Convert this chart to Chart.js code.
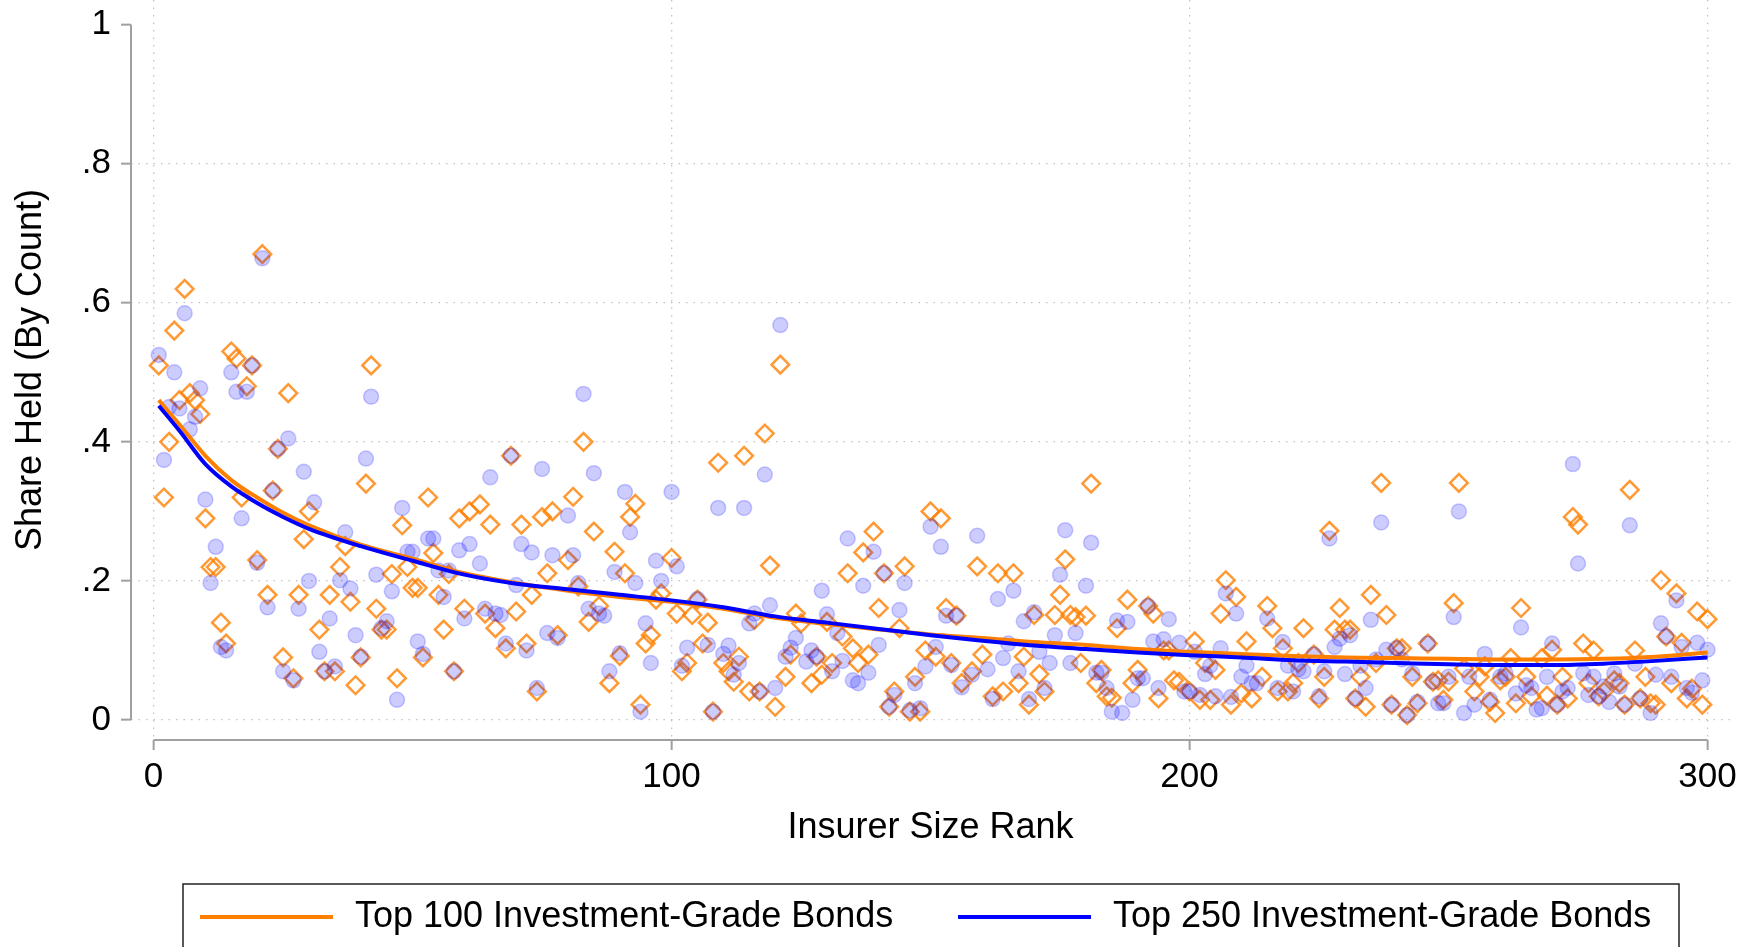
<!DOCTYPE html>
<html>
<head>
<meta charset="utf-8">
<title>Share Held by Insurer Size Rank</title>
<script src="https://cdn.jsdelivr.net/npm/chart.js"></script>
<style>
    html, body { margin: 0; padding: 0; background: #ffffff; }
    #wrap { width: 1758px; height: 947px; position: relative; }
</style>
</head>
<body>
<div id="wrap"><canvas id="shareChart"></canvas></div>
<script>
// --- values (share held, by insurer size rank 1..300) ---
// null = no marker visible at that rank
const top100Share = [
    .51, .32, .40, .56, .46, .62, .47, .46, .44, .29,
    .22, .22, .14, .11, .53, .52, .32, .48, .51, .23,
    .67, .18, .33, .39, .09, .47, .06, .18, .26, .30,
    null, .13, .07, .18, .07, .22, .25, .17, .05, .09,
    .34, .51, .16, .13, .13, .21, .06, .28, .22, .19,
    .19, .09, .32, .24, .18, .13, .21, .07, .29, .16,
    .30, null, .31, .153, .281, .132, null, .103, .38, .156,
    .281, .11, .18, .041, .292, .211, .30, .122, null, .23,
    .321, .192, .40, .141, .271, .164, null, .053, .242, .092,
    .211, .292, .311, .022, .11, .122, .173, .182, null, .233,
    .153, .07, .082, .151, .173, .11, .14, .012, .37, .082,
    .07, .055, .091, .38, .041, .144, .041, .412, .222, .019,
    .511, .062, .094, .153, .139, null, .053, .091, .065, .141,
    .082, null, .12, .211, .103, .082, .241, .094, .271, .161,
    .211, .019, .041, .132, .221, .012, .062, .012, .10, .30,
    .091, .29, .161, .082, .15, .053, null, .07, .221, .094,
    null, .034, .211, .041, null, .211, .053, .091, .022, .151,
    .066, .041, null, .151, .18, .231, .151, .148, .082, .15,
    .34, .053, .072, .034, .032, .132, null, .173, .053, .072,
    null, .164, .153, .031, .10, .10, .057, .055, null, .041,
    .113, .029, .082, .029, .072, .153, .201, .022, .177, .038,
    .113, .031, null, .062, .164, .132, .041, .103, .041, .053,
    .082, .132, null, .094, .031, .062, .272, .13, .161, .13,
    .13, .031, .062, .019, .18, .082, .341, .151, .022, .103,
    .103, .007, .062, .024, null, .11, .055, .057, .029, .055,
    .168, .341, .074, null, .041, .062, .077, .026, .01, .057,
    .062, .089, .024, .161, .062, .034, null, .089, .035, .101,
    .022, .062, .031, .292, .281, .11, .053, .10, .034, .041,
    null, .057, .053, .022, .331, .10, .031, .062, .024, .022,
    .201, .12, .053, .182, .111, .031, .045, .156, .022, .145
];

const top250Share = [
    .525, .374, .45, .50, .448, .585, .418, .436, .477, .317,
    .197, .249, .105, .10, .50, .472, .29, .472, .51, .226,
    .664, .162, .33, .39, .07, .405, .057, .16, .357, .20,
    .313, .098, .07, .146, .077, .201, .27, .189, .122, .091,
    .376, .465, .209, .132, .142, .185, .029, .305, .242, .242,
    .113, .095, .261, .261, .215, .177, .215, .07, .244, .146,
    .253, null, .225, .16, .349, .153, .151, .11, .38, .194,
    .253, .10, .241, .046, .361, .125, .237, .118, null, .294,
    .237, .197, .469, .16, .355, .153, .15, .07, .213, .096,
    .328, .27, .197, .012, .139, .082, .229, .20, null, .328,
    .221, .078, .104, null, .174, null, .108, .012, .305, .095,
    .107, .065, .082, .305, .139, .153, .041, .353, .165, .046,
    .568, .091, .104, .118, null, .084, .10, .091, .186, .152,
    .07, .125, .085, .261, .057, .053, .193, .068, .242, .108,
    .211, .019, .036, .158, .197, .014, .053, .017, .077, .278,
    .105, .249, .15, .079, .15, .047, null, .065, .265, null,
    .073, .03, .174, .089, .11, .186, .07, .142, .03, .155,
    .098, .046, .082, .122, .209, .273, .082, .125, null, .193,
    .255, .068, .068, .046, .012, .143, .01, .141, .029, .06,
    .06, .164, .113, .046, .116, .145, null, .111, .041, .041,
    .098, .036, .066, .078, .034, .103, .182, .033, .153, .062,
    .078, .053, .053, null, .146, null, .046, .112, .078, .041,
    .073, .07, null, .094, .034, .07, .261, .105, .117, .066,
    .122, .031, .078, .046, .144, .087, .284, .101, .022, .103,
    .087, .007, .067, .026, null, .11, .055, .024, .024, .062,
    .148, .30, .01, .062, .022, null, .095, .029, null, .062,
    .067, null, .038, .133, .05, .046, .015, .017, .062, .11,
    .022, .041, .046, .368, .225, .067, .036, .062, .034, .048,
    .026, .067, .048, .022, .28, .081, .031, null, .01, .065,
    .139, .12, .062, .172, .105, .046, .039, .111, .057, .101
];

// smoothed fit lines, read at these ranks
const fitRanks = [1, 5, 10, 15, 20, 25, 30, 40, 50, 60, 70, 80, 90, 100, 110, 120, 130, 140, 150,
    160, 170, 180, 190, 200, 210, 220, 230, 240, 250, 260, 270, 280, 290, 300];
const top100Fit = [.46, .425, .38, .345, .32, .298, .28, .252, .232, .211, .197, .186, .177, .170, .160, .147, .138, .130, .123,
    .118, .112, .108, .102, .098, .095, .092, .090, .089, .088, .087, .087, .088, .091, .097];
const top250Fit = [.452, .416, .368, .336, .312, .292, .275, .25, .229, .209, .196, .188, .180, .172, .162, .149, .140, .131, .122,
    .114, .107, .102, .097, .093, .090, .086, .084, .082, .080, .079, .079, .081, .085, .090];

const seriesLabels = ['Top 100 Investment-Grade Bonds', 'Top 250 Investment-Grade Bonds'];
const xTickValues = [0, 100, 200, 300];
const yTickValues = [0, 0.2, 0.4, 0.6, 0.8, 1];
const yTickLabels = ['0', '.2', '.4', '.6', '.8', '1'];

const ranks = top100Share.map((_, i) => i + 1);
const toPoints = (xs, ys) => xs.map((x, i) => ({ x: x, y: ys[i] }));

const FAMILY = '"Liberation Sans", Arial, Helvetica, sans-serif';
const TICK_FONT = { family: FAMILY, size: 35 };
const TITLE_FONT = { family: FAMILY, size: 36 };
const GRID_GRAY = '#c2c2c2';
const AXIS_GRAY = '#a0a0a0';

// keep the plot region fixed: no automatic room for the end labels
const noEdgePadding = s => {
    s.paddingTop = 0;
    s.paddingBottom = 0;
    s.paddingLeft = 0;
    s.paddingRight = 0;
};

// Stata-like axis lines (only over the labelled range) plus the boxed legend at the bottom
const stataFrame = {
    id: 'stataFrame',
    afterDraw(chart) {
        const { ctx, chartArea, scales: { x, y } } = chart;
        ctx.save();
        ctx.strokeStyle = AXIS_GRAY;
        ctx.lineWidth = 2;
        ctx.beginPath();
        ctx.moveTo(chartArea.left, y.getPixelForValue(yTickValues[yTickValues.length - 1]));
        ctx.lineTo(chartArea.left, y.getPixelForValue(yTickValues[0]));
        ctx.moveTo(x.getPixelForValue(xTickValues[0]), chartArea.bottom);
        ctx.lineTo(x.getPixelForValue(xTickValues[xTickValues.length - 1]), chartArea.bottom);
        ctx.stroke();

        // legend box
        ctx.strokeStyle = '#222';
        ctx.lineWidth = 1.5;
        ctx.strokeRect(183, 884, 1496, 80);

        const items = chart.data.datasets.filter(d => d.inLegend);
        const itemX = [200, 958];
        const midY = 917;
        ctx.font = TITLE_FONT.size + 'px ' + FAMILY;
        ctx.textBaseline = 'middle';
        ctx.textAlign = 'left';
        items.forEach((d, i) => {
            ctx.strokeStyle = d.borderColor;
            ctx.lineWidth = 4;
            ctx.beginPath();
            ctx.moveTo(itemX[i], midY);
            ctx.lineTo(itemX[i] + 133, midY);
            ctx.stroke();
            ctx.fillStyle = '#000';
            ctx.fillText(d.label, itemX[i] + 155, midY);
        });
        ctx.restore();
    }
};

const ctx = document.getElementById('shareChart').getContext('2d');
const shareChart = new Chart(ctx, {
    type: 'scatter',
    data: {
        datasets: [
            {
                type: 'line',
                label: seriesLabels[0],
                inLegend: true,
                data: toPoints(fitRanks, top100Fit),
                borderColor: '#ff7f00',
                backgroundColor: '#ff7f00',
                borderWidth: 4,
                pointRadius: 0,
                fill: false,
                cubicInterpolationMode: 'monotone',
                order: 1
            },
            {
                type: 'line',
                label: seriesLabels[1],
                inLegend: true,
                data: toPoints(fitRanks, top250Fit),
                borderColor: '#0000ff',
                backgroundColor: '#0000ff',
                borderWidth: 4,
                pointRadius: 0,
                fill: false,
                cubicInterpolationMode: 'monotone',
                order: 0
            },
            {
                label: seriesLabels[1] + ' (insurers)',
                data: toPoints(ranks, top250Share),
                pointStyle: 'circle',
                pointRadius: 7.5,
                backgroundColor: 'rgba(0, 0, 255, 0.2)',
                borderColor: 'rgba(0, 0, 255, 0.2)',
                borderWidth: 1.5,
                clip: false,
                order: 2
            },
            {
                label: seriesLabels[0] + ' (insurers)',
                data: toPoints(ranks, top100Share),
                pointStyle: 'rectRot',
                pointRadius: 8.8,
                backgroundColor: 'rgba(0, 0, 0, 0)',
                borderColor: 'rgba(255, 127, 0, 0.8)',
                borderWidth: 2.5,
                clip: false,
                order: 3
            }
        ]
    },
    options: {
        responsive: true,
        maintainAspectRatio: false,
        animation: false,
        layout: { autoPadding: false, padding: { left: 0, top: 0, right: 28, bottom: 87 } },
        plugins: {
            legend: { display: false },
            tooltip: { enabled: false }
        },
        scales: {
            x: {
                type: 'linear',
                min: -4.36,
                max: 304.34,
                afterBuildTicks: s => { s.ticks = xTickValues.map(v => ({ value: v })); },
                afterFit: s => { s.height = 120; noEdgePadding(s); },
                grid: {
                    color: GRID_GRAY,
                    lineWidth: 1.3,
                    tickLength: 10,
                    tickColor: AXIS_GRAY,
                    tickWidth: 2,
                    tickBorderDash: []
                },
                border: { display: false, dash: [1.5, 6] },
                ticks: {
                    color: '#000',
                    font: TICK_FONT,
                    padding: 6,
                    maxRotation: 0,
                    callback: v => String(v)
                },
                title: {
                    display: true,
                    text: 'Insurer Size Rank',
                    color: '#000',
                    font: TITLE_FONT,
                    padding: { top: 0, bottom: 10 }
                }
            },
            y: {
                type: 'linear',
                min: -0.0288,
                max: 1.0355,
                afterBuildTicks: s => { s.ticks = yTickValues.map(v => ({ value: v })); },
                afterFit: s => { s.width = 131; noEdgePadding(s); },
                grid: {
                    color: c => (c.tick && c.tick.value === 1) ? 'rgba(0,0,0,0)' : GRID_GRAY,
                    lineWidth: 1.3,
                    tickLength: 10,
                    tickColor: AXIS_GRAY,
                    tickWidth: 2,
                    tickBorderDash: []
                },
                border: { display: false, dash: [1.5, 6] },
                ticks: {
                    color: '#000',
                    font: TICK_FONT,
                    padding: 10,
                    callback: v => yTickLabels[yTickValues.indexOf(v)]
                },
                title: {
                    display: true,
                    text: 'Share Held (By Count)',
                    color: '#000',
                    font: TITLE_FONT,
                    padding: { top: 9, bottom: 0 }
                }
            }
        }
    },
    plugins: [stataFrame]
});
</script>
</body>
</html>
